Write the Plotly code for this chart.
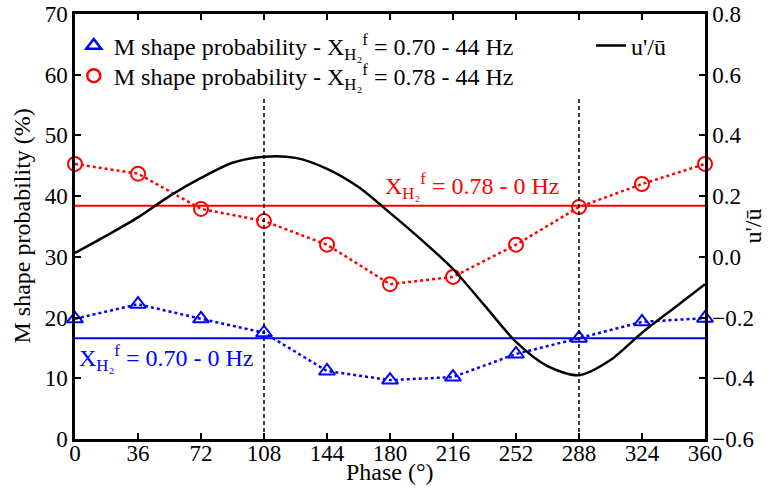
import plotly.graph_objects as go

phase = [0, 36, 72, 108, 144, 180, 216, 252, 288, 324, 360]
prob_070 = [19.8, 22.2, 19.8, 17.5, 11.2, 9.7, 10.2, 14.0, 16.6, 19.3, 19.9]
prob_078 = [45.3, 43.7, 37.9, 35.9, 32.0, 25.5, 26.7, 32.0, 38.2, 42.0, 45.3]
ref_070 = 16.6
ref_078 = 38.4

vel_phase = [0, 18, 36, 54, 72, 90, 108, 126, 144, 162, 180, 198, 216, 234, 252, 270, 288, 306, 324, 342, 360]
vel_ratio = [0.013, 0.07, 0.13, 0.2, 0.26, 0.31, 0.33, 0.326, 0.29, 0.23, 0.145, 0.056, -0.04, -0.16,
             -0.28, -0.36, -0.39, -0.34, -0.25, -0.17, -0.09]

x_ticks = [0, 36, 72, 108, 144, 180, 216, 252, 288, 324, 360]
y_ticks = [0, 10, 20, 30, 40, 50, 60, 70]
y2_ticks = [-0.6, -0.4, -0.2, 0, 0.2, 0.4, 0.6, 0.8]
vlines = [108, 288]

FONT = "Liberation Serif"
BLUE = "rgb(0,0,255)"
RED = "rgb(255,0,0)"
XH2 = "X<sub>H₂</sub><sup>f</sup>"
TS = 23  # tick font size
FS = 24  # text font size

fig = go.Figure()

fig.add_trace(go.Scatter(x=vel_phase, y=vel_ratio, mode="lines", yaxis="y2",
                         line=dict(color="black", width=2.5, shape="spline", smoothing=0.8),
                         name="u'/ū", legend="legend2", showlegend=True))

fig.add_trace(go.Scatter(x=[phase[0], phase[-1]], y=[ref_078, ref_078], mode="lines",
                         line=dict(color=RED, width=2), showlegend=False))
fig.add_trace(go.Scatter(x=[phase[0], phase[-1]], y=[ref_070, ref_070], mode="lines",
                         line=dict(color=BLUE, width=2), showlegend=False))

fig.add_trace(go.Scatter(x=phase, y=prob_070, mode="lines+markers", cliponaxis=False,
                         line=dict(color=BLUE, width=2.5, dash="dot"),
                         marker=dict(symbol="triangle-up-open", size=14, color=BLUE, line=dict(width=2)),
                         showlegend=False))
fig.add_trace(go.Scatter(x=phase, y=prob_078, mode="lines+markers", cliponaxis=False,
                         line=dict(color=RED, width=2.5, dash="dot"),
                         marker=dict(symbol="circle-open", size=14, color=RED, line=dict(width=2)),
                         showlegend=False))

fig.add_trace(go.Scatter(x=[None], y=[None], mode="markers",
                         marker=dict(symbol="triangle-up-open", size=13, color=BLUE, line=dict(width=2.5)),
                         name=f"M shape probability - {XH2} = 0.70 - 44 Hz", legend="legend"))
fig.add_trace(go.Scatter(x=[None], y=[None], mode="markers",
                         marker=dict(symbol="circle-open", size=13, color=RED, line=dict(width=2.5)),
                         name=f"M shape probability - {XH2} = 0.78 - 44 Hz", legend="legend3"))

for v in vlines:
    fig.add_shape(type="line", x0=v, x1=v, y0=0, y1=56, xref="x", yref="y",
                  line=dict(color="black", width=1.5, dash="4px,3px"))

fig.add_annotation(x=176, y=ref_078, xref="x", yref="y", text=f"{XH2} = 0.78 - 0 Hz",
                   showarrow=False, xanchor="left", yanchor="bottom", yshift=1,
                   font=dict(family=FONT, size=FS, color=RED))
fig.add_annotation(x=0, y=ref_070, xref="x", yref="y", text=f"{XH2} = 0.70 - 0 Hz",
                   showarrow=False, xanchor="left", yanchor="top", yshift=-1, xshift=2,
                   font=dict(family=FONT, size=FS, color=BLUE))

# axis titles
fig.add_annotation(x=0.5, y=0, xref="paper", yref="paper", yshift=-18, text="Phase (°)",
                   showarrow=False, xanchor="center", yanchor="top",
                   font=dict(family=FONT, size=FS, color="black"))
fig.add_annotation(x=0, y=0.5, xref="paper", yref="paper", xshift=-39, text="M shape probability (%)",
                   showarrow=False, xanchor="right", yanchor="middle", textangle=-90,
                   font=dict(family=FONT, size=FS, color="black"))
fig.add_annotation(x=1, y=0.5, xref="paper", yref="paper", xshift=32, text="u'/ū",
                   showarrow=False, xanchor="left", yanchor="middle", textangle=-90,
                   font=dict(family=FONT, size=FS, color="black"))

axis_common = dict(showline=True, linecolor="black", linewidth=2.5, ticks="inside",
                   ticklen=6, tickwidth=2, tickcolor="black", showgrid=False, zeroline=False,
                   automargin=False, ticklabeloverflow="allow",
                   tickfont=dict(family=FONT, size=TS, color="black"))

leg_common = dict(xanchor="left", yanchor="top", bgcolor="rgba(0,0,0,0)",
                  font=dict(family=FONT, size=FS), itemwidth=30)

fig.update_layout(
    width=771, height=498,
    margin=dict(l=75, r=66, t=14, b=59),
    paper_bgcolor="white", plot_bgcolor="white",
    font=dict(family=FONT, size=FS, color="black"),
    xaxis=dict(range=[0, 360], tickvals=x_ticks, mirror="ticks", ticklabelstandoff=-8, **axis_common),
    yaxis=dict(range=[0, 70], tickvals=y_ticks, **axis_common),
    yaxis2=dict(range=[-0.6, 0.8], tickvals=y2_ticks, overlaying="y", side="right",
                tickformat=".1f", **axis_common),
    legend=dict(x=-0.002, y=0.978, **leg_common),
    legend3=dict(x=-0.002, y=0.907, **leg_common),
    legend2=dict(x=0.819, y=0.978, **leg_common),
    showlegend=True,
)

fig.write_html("out.html", config={"displayModeBar": False},
               post_script="document.body.style.margin='0';document.documentElement.style.margin='0';")
